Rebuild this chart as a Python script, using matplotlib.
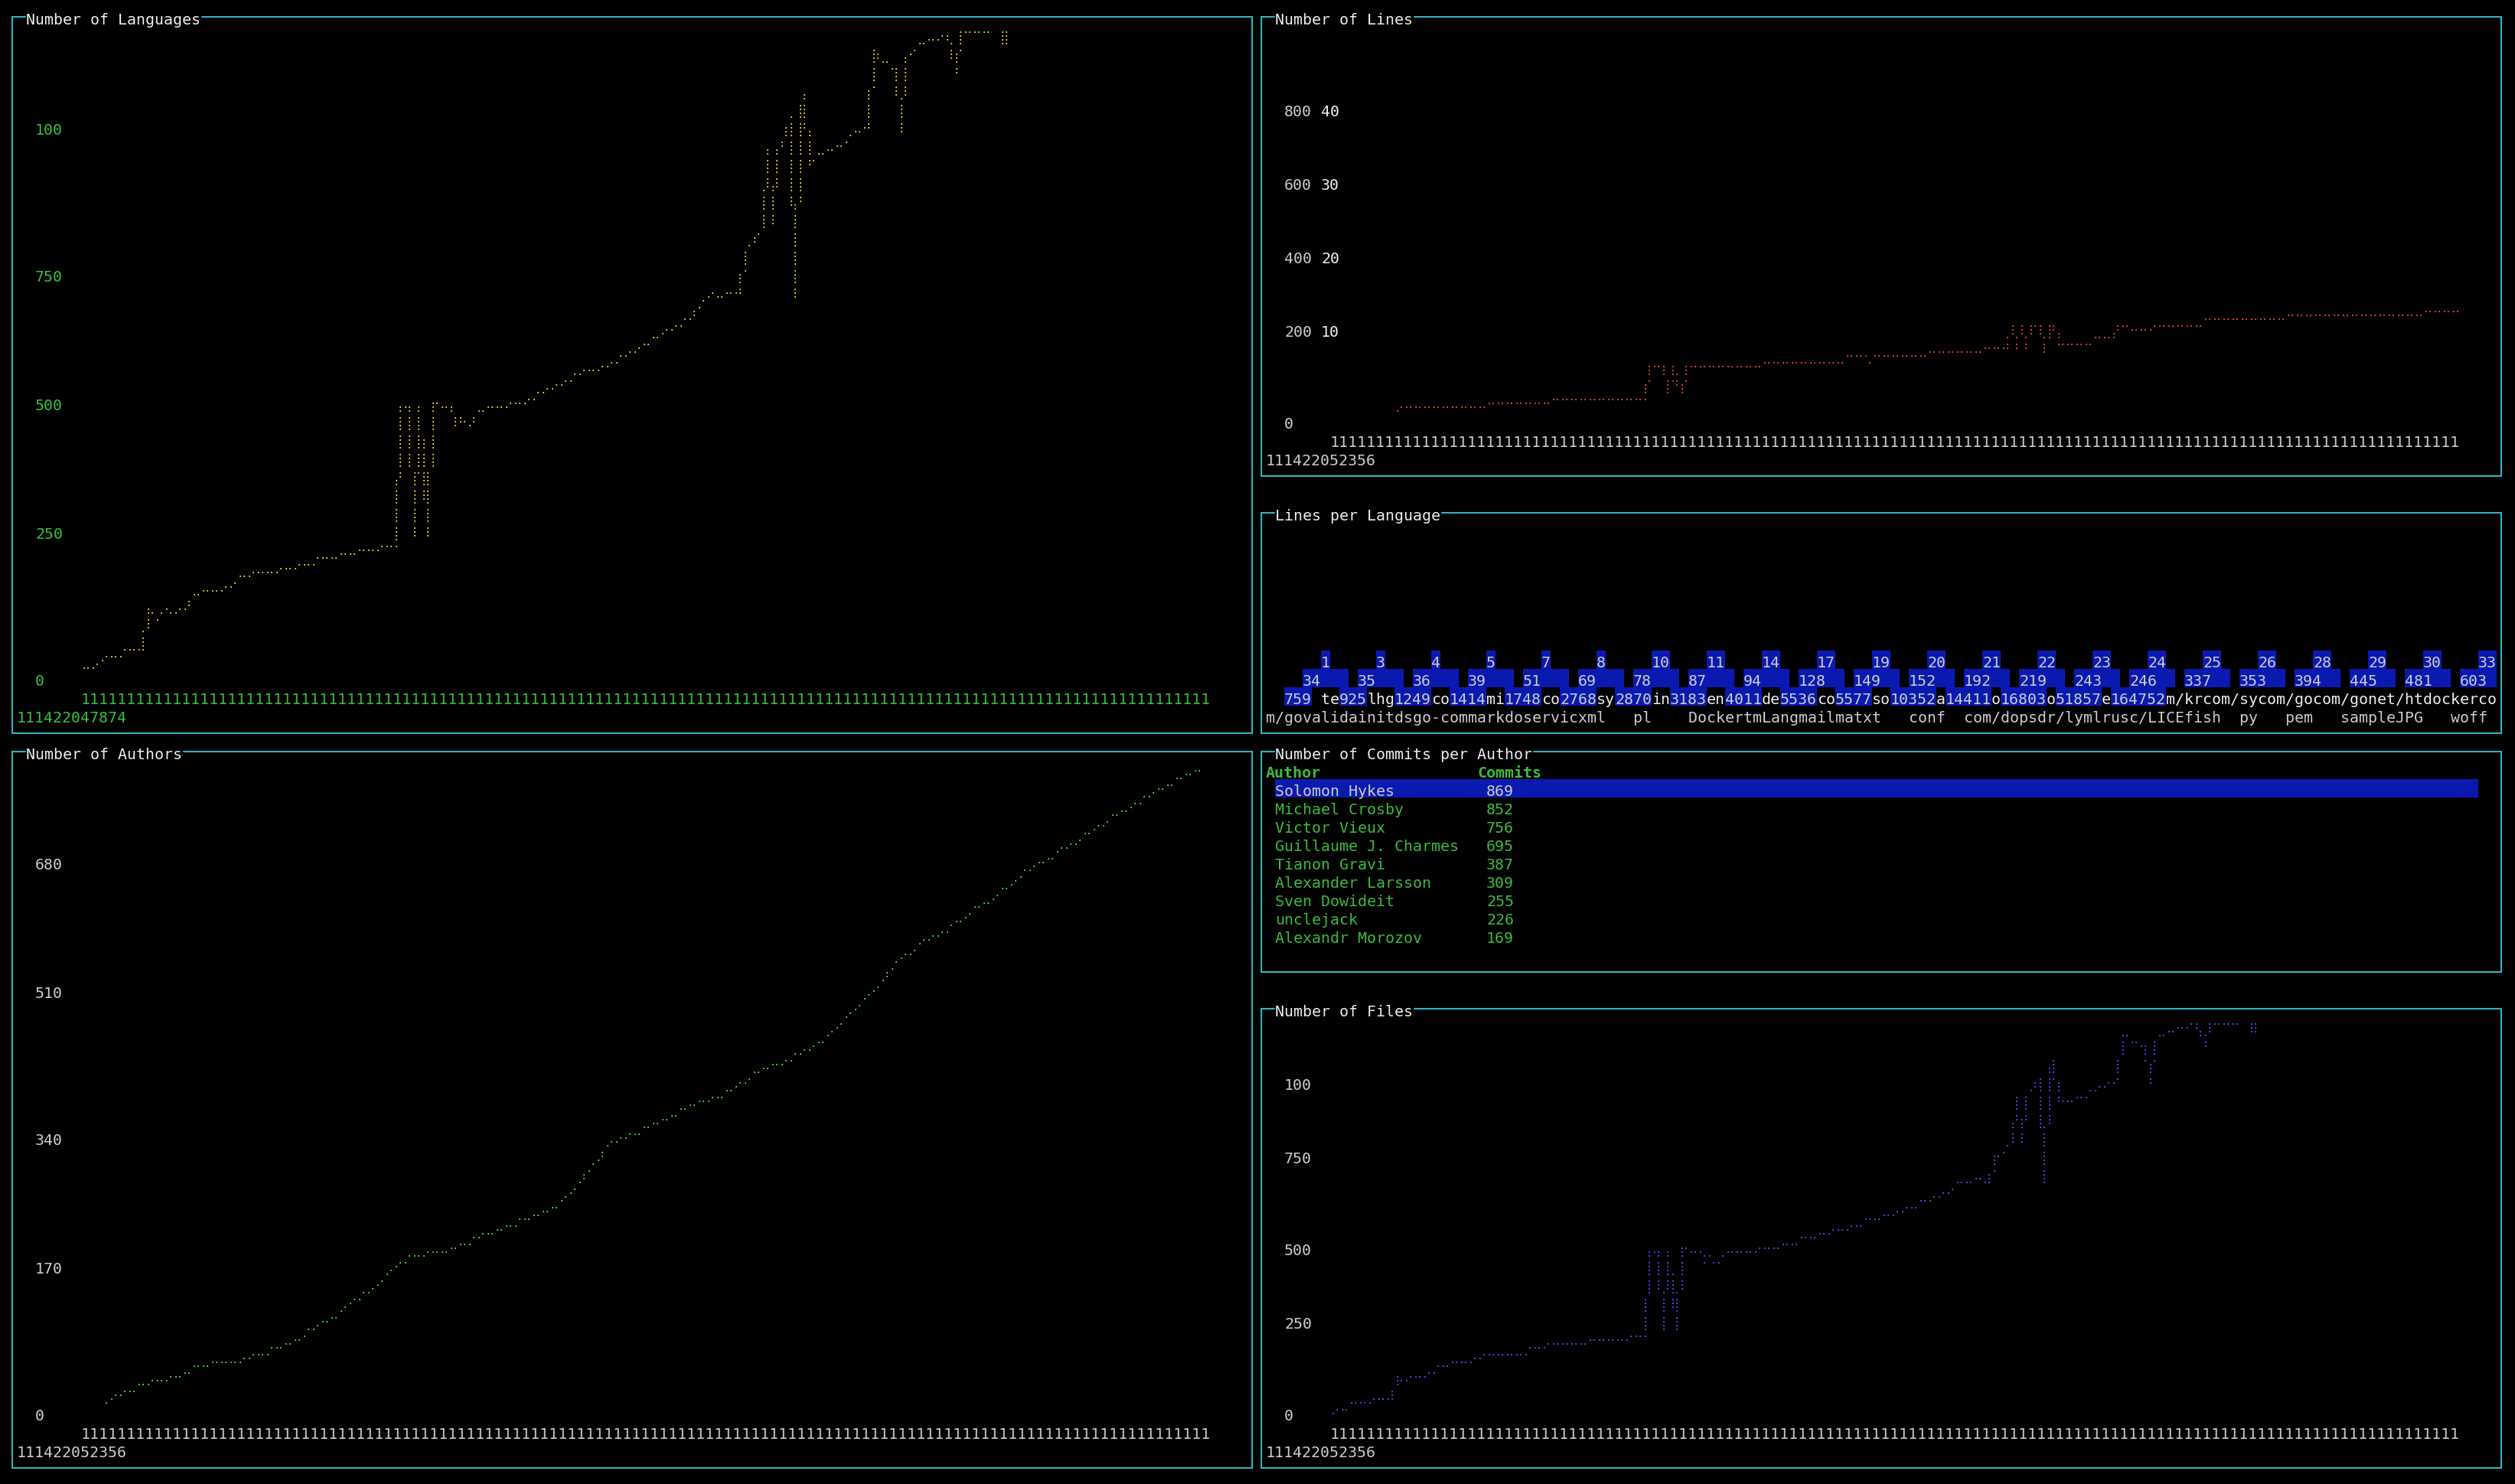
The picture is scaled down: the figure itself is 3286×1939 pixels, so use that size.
import matplotlib
matplotlib.use('Agg')
import matplotlib.pyplot as plt
from matplotlib.patches import Rectangle

# terminal grid (px)
CW, CH = 12.0, 24.0
OX, OY = 10.0, 10.7
W, H = 3286, 1940
FS = 14.35
MONO = 'DejaVu Sans Mono'

BORDER = '#2db4c2'
WHITE = '#eeeeee'
GREY = '#cccccc'
GREEN = '#3cbc3c'
YELLOW = '#c8b422'
RED = '#cc3f2c'
BLUE_DOT = '#4444e8'
BAR_BLUE = '#0a1ab0'

lang_x = [0, 2, 3, 4, 6, 12, 13, 14, 16, 18, 20, 22, 24, 27, 30, 32, 34, 40, 46, 47,
          55, 56, 64, 65, 68, 69, 71, 72, 73, 75, 76, 80, 81, 82, 84, 86, 90, 95, 100, 107,
          114, 121, 126, 132, 134, 135, 137, 139, 141, 143, 144, 145, 146, 148, 149, 150,
          151, 152, 153, 154, 155, 156, 157, 158, 160, 163, 166, 168, 171, 172, 173, 175,
          177, 178, 179, 181, 183, 185, 188, 190, 191, 193, 197, 198, 199, 200, 201, 202]
lang_y = [34, 35, 42, 52, 58, 68, 67, 142, 128, 140, 132, 145, 165, 172, 178, 185, 200, 207, 214, 229,
          232, 243, 246, 258, 262, 505, 510, 272, 512, 275, 515, 512, 478, 490, 478, 500, 505, 515, 532, 564,
          584, 613, 642, 668, 688, 701, 715, 706, 720, 715, 789, 800, 814, 835, 974, 840,
          970, 990, 1010, 1030, 706, 1053, 1076, 953, 965, 975, 990, 1005, 1020, 1155, 1145, 1132,
          1122, 1007, 1140, 1155, 1168, 1175, 1185, 1120, 1188, 1191, 1191, 1250, 1250, 1167, 1167, 1250]
files_x = lang_x
files_y = lang_y

lines_x = [14, 15, 33, 34, 47, 48, 68, 69, 72, 73, 74, 76, 77, 93, 94, 111, 112, 116, 117, 118,
           129, 130, 141, 142, 147, 148, 149, 150, 151, 152, 154, 155, 156, 157, 158, 165, 166,
           170, 171, 176, 181, 199, 216, 234, 241, 245]
lines_y = [46, 58, 58, 66, 66, 75, 75, 158, 160, 89, 160, 89, 160, 161, 167, 167, 184, 184, 167, 184,
           184, 194, 194, 204, 204, 260, 204, 260, 204, 260, 260, 194, 260, 260, 213, 213, 230,
           230, 260, 258, 263, 275, 282, 290, 300, 303]

auth_x = [5, 7, 10, 13, 17, 20, 25, 31, 34, 38, 43, 48, 51, 55, 58, 62, 65, 69, 72, 78, 83, 88,
          93, 99, 104, 107, 111, 114, 120, 125, 130, 135, 141, 146, 151, 156, 162, 167, 172, 177,
          182, 188, 193, 198, 203, 207, 212, 217, 223, 228, 233, 238, 243]
auth_y = [24, 32, 38, 43, 51, 59, 67, 71, 73, 83, 93, 109, 120, 132, 148, 160, 176, 196, 206, 207,
          219, 231, 241, 255, 271, 291, 320, 340, 356, 370, 386, 397, 409, 429, 443, 455, 473, 504,
          534, 568, 587, 607, 627, 647, 666, 686, 702, 722, 740, 759, 775, 791, 807]

lang_ticks = ['100', '750', '500', '250', '0']
auth_ticks = ['680', '510', '340', '170', '0']
lines_ticks = ['800', '600', '400', '200', '0']
lines_ticks2 = ['40', '30', '20', '10']
files_ticks = ['100', '750', '500', '250', '0']
xlab_lang = '111422047874'
xlab_other = '111422052356'

bar_small = [1, 3, 4, 5, 7, 8, 10, 11, 14, 17, 19, 20, 21, 22, 23, 24, 25, 26, 28, 29, 30, 33]
bar_mid = [34, 35, 36, 39, 51, 69, 78, 87, 94, 128, 149, 152, 192, 219, 243, 246, 337, 353,
           394, 445, 481, 603]
bar_big = [759, 925, 1249, 1414, 1748, 2768, 2870, 3183, 4011, 5536, 5577, 10352, 14411,
           16803, 51857, 164752]
bar_big_tail = [' te', 'lhg', 'co', 'mi', 'co', 'sy', 'in', 'en', 'de', 'co', 'so', 'a', 'o',
                'o', 'e', '']
bar_row_tail = 'm/krcom/sycom/gocom/gonet/htdockerco'
bar_labels = ('m/govalidainitdsgo-commarkdoservicxml   pl    DockertmLangmailmatxt   conf  '
              'com/dopsdr/lymlrusc/LICEfish  py   pem   sampleJPG   woff')

authors = ['Solomon Hykes', 'Michael Crosby', 'Victor Vieux', 'Guillaume J. Charmes',
           'Tianon Gravi', 'Alexander Larsson', 'Sven Dowideit', 'unclejack', 'Alexandr Morozov']
commits = [869, 852, 756, 695, 387, 309, 255, 226, 169]

# ---- figure ----
fig = plt.figure(figsize=(W / 100, H / 100), dpi=100, facecolor='black')
ax = fig.add_axes([0, 0, 1, 1])
ax.set_facecolor('black')
ax.set_xlim(-OX / CW, (W - OX) / CW)
ax.set_ylim((H - OY) / CH, -OY / CH)
ax.axis('off')


def put(col, row, s, color=WHITE, bold=False, z=5):
    ax.text(col, row + 0.885, s, color=color, fontsize=FS, family=MONO,
            fontweight='bold' if bold else 'normal', ha='left', va='baseline', zorder=z)


def panel(c0, r0, c1, r1, title):
    ax.plot([c0 + .5, c1 + .5, c1 + .5, c0 + .5, c0 + .5],
            [r0 + .5, r0 + .5, r1 + .5, r1 + .5, r0 + .5],
            color=BORDER, lw=1.5, solid_joinstyle='miter', zorder=1)
    ax.add_patch(Rectangle((c0 + 2, r0 + 0.2), len(title), 0.6, color='black', zorder=2))
    put(c0 + 2, r0, title, WHITE)


def bres(x0, y0, x1, y1):
    pts = []
    dx = abs(x1 - x0)
    dy = -abs(y1 - y0)
    sx = 1 if x0 < x1 else -1
    sy = 1 if y0 < y1 else -1
    err = dx + dy
    while True:
        pts.append((x0, y0))
        if x0 == x1 and y0 == y1:
            break
        e2 = 2 * err
        if e2 >= dy:
            err += dy
            x0 += sx
        if e2 <= dx:
            err += dx
            y0 += sy
    return pts


SUBX = [0.30, 0.72]
SUBY = [0.354, 0.5625, 0.77, 0.98]


def braille(xs, vs, col0, row_top, row_bot, vmax, color):
    n = 4 * (row_bot - row_top + 1)
    pts = [(int(x), int(round(v / vmax * (n - 1)))) for x, v in zip(xs, vs)]
    dots = set()
    for (x0, y0), (x1, y1) in zip(pts[:-1], pts[1:]):
        dots.update(bres(x0, y0, x1, y1))
    dots = [d for d in dots if 0 <= d[1] < n]
    px = [col0 + dx // 2 + SUBX[dx % 2] for dx, dy in dots]
    py = [row_bot - dy // 4 + SUBY[3 - dy % 4] for dx, dy in dots]
    ax.scatter(px, py, s=4.0, marker='s', c=color, linewidths=0, zorder=3)


def xaxis(c0, row, lab, color):
    put(c0 + 8, row, '1' * 123, color)
    put(c0 + 1, row + 1, lab, color)


# panels
panel(0, 0, 135, 39, 'Number of Languages')
panel(136, 0, 271, 25, 'Number of Lines')
panel(136, 27, 271, 39, 'Lines per Language')
panel(0, 40, 135, 79, 'Number of Authors')
panel(136, 40, 271, 52, 'Number of Commits per Author')
panel(136, 54, 271, 79, 'Number of Files')

# Number of Languages
for t, r in zip(lang_ticks, [6, 14, 21, 28, 36]):
    put(3, r, t, GREEN)
xaxis(0, 37, xlab_lang, GREEN)
braille(lang_x, lang_y, 8, 1, 36, 1191, YELLOW)

# Number of Lines
for t, r in zip(lines_ticks, [5, 9, 13, 17, 22]):
    put(139, r, t, GREY)
for t, r in zip(lines_ticks2, [5, 9, 13, 17]):
    put(143, r, t, WHITE)
xaxis(136, 23, xlab_other, GREY)
braille(lines_x, lines_y, 144, 1, 22, 1000, RED)

# Number of Authors
for t, r in zip(auth_ticks, [46, 53, 61, 68, 76]):
    put(3, r, t, GREY)
xaxis(0, 77, xlab_other, GREY)
braille(auth_x, auth_y, 8, 41, 76, 810, GREEN)

# Number of Files
for t, r in zip(files_ticks, [58, 62, 67, 71, 76]):
    put(139, r, t, GREY)
xaxis(136, 77, xlab_other, GREY)
braille(files_x, files_y, 144, 55, 76, 1191, BLUE_DOT)

# Lines per Language
k = list(range(len(bar_mid)))
ax.bar([141 + 6 * i for i in k], 1, width=[min(5, 271 - (141 + 6 * i)) for i in k],
       bottom=36, align='edge', color=BAR_BLUE, linewidth=0, zorder=2)
for i, v in enumerate(bar_mid):
    put(141 + 6 * i, 36, str(v), GREY)
ax.bar([143 + 6 * i for i in range(len(bar_small))], 1,
       width=[len(str(v)) for v in bar_small], bottom=35, align='edge',
       color=BAR_BLUE, linewidth=0, zorder=2)
for i, v in enumerate(bar_small):
    put(143 + 6 * i, 35, str(v), GREY)
ax.bar([139 + 6 * i for i in range(len(bar_big))], 1,
       width=[len(str(v)) for v in bar_big], bottom=37, align='edge',
       color=BAR_BLUE, linewidth=0, zorder=2)
for i, v in enumerate(bar_big):
    c = 139 + 6 * i
    put(c, 37, str(v), GREY)
    if bar_big_tail[i]:
        put(c + len(str(v)), 37, bar_big_tail[i], WHITE)
put(139 + 6 * len(bar_big), 37, bar_row_tail, WHITE)
put(137, 38, bar_labels, GREY)

# Number of Commits per Author
put(137, 41, 'Author', GREEN, bold=True)
put(160, 41, 'Commits', GREEN, bold=True)
ax.add_patch(Rectangle((138, 42), 131, 1, color=BAR_BLUE, linewidth=0, zorder=2))
for i, (a, c) in enumerate(zip(authors, commits)):
    col = GREY if i == 0 else GREEN
    put(138, 42 + i, a, col)
    put(161, 42 + i, str(c), col)

fig.savefig('out.png', dpi=100, facecolor='black')
